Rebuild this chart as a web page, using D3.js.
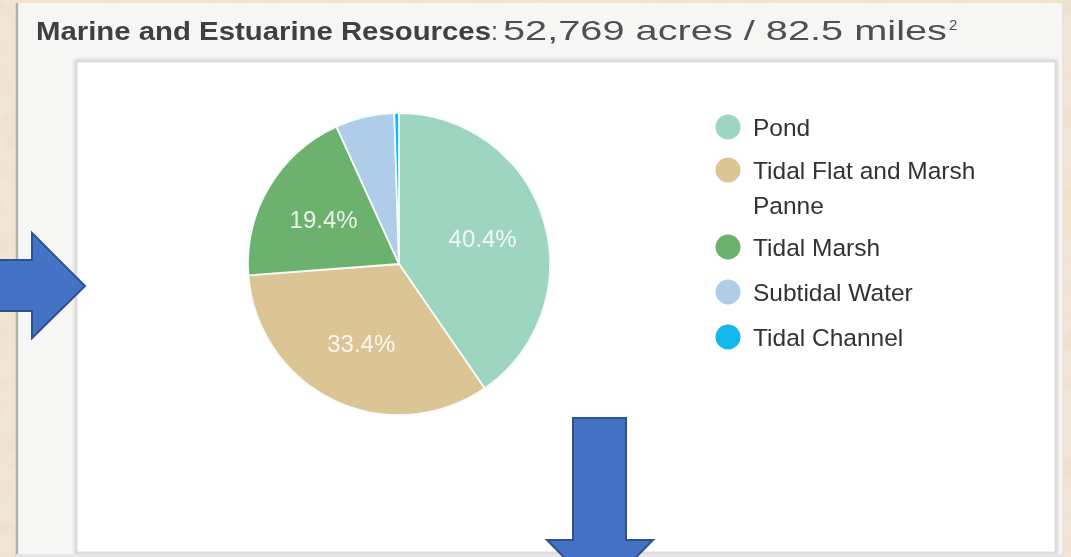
<!DOCTYPE html>
<html>
<head>
<meta charset="utf-8">
<script src="https://cdn.jsdelivr.net/npm/d3@7"></script>
<style>
  html, body { margin: 0; padding: 0; background: #efe4cf; }
  svg { display: block; }
</style>
</head>
<body>
<svg id="chart" width="1071" height="557"></svg>
<script>
// Land cover categories and their share of the area (percent)
const categories = ["Pond", "Tidal Flat and Marsh Panne", "Tidal Marsh", "Subtidal Water", "Tidal Channel"];
const shares = [40.4, 33.4, 19.4, 6.3, 0.5];
const sliceColors = ["#9ed5c0", "#dcc594", "#6cb26e", "#afcde8", "#15b8ee"];
// Legend text, wrapped onto lines
const legendLines = [["Pond"], ["Tidal Flat and Marsh", "Panne"], ["Tidal Marsh"], ["Subtidal Water"], ["Tidal Channel"]];
const titleBold = "Marine and Estuarine Resources";
const titleRest = "52,769 acres / 82.5 miles";
const titleSup = "2";
const labelMin = 10; // slices smaller than this (percent) get no label

const W = 1071, H = 557;
const svg = d3.select("#chart");
const defs = svg.append("defs");

// parchment grain
const grain = defs.append("filter").attr("id", "grain").attr("x", 0).attr("y", 0).attr("width", 1).attr("height", 1);
grain.append("feTurbulence").attr("type", "fractalNoise").attr("baseFrequency", "0.035 0.05").attr("numOctaves", 4).attr("seed", 7).attr("result", "n");
grain.append("feColorMatrix").attr("in", "n").attr("type", "matrix")
  .attr("values", "0 0 0 0 0.78  0 0 0 0 0.66  0 0 0 0 0.48  0 0 0 -1.3 0.75");

const shadow = defs.append("filter").attr("id", "soft").attr("x", -0.05).attr("y", -0.05).attr("width", 1.1).attr("height", 1.1);
shadow.append("feGaussianBlur").attr("stdDeviation", 1.5);

// slight softening for the type
const textSoft = defs.append("filter").attr("id", "tsoft");
textSoft.append("feGaussianBlur").attr("stdDeviation", 0.45);

svg.append("rect").attr("width", W).attr("height", H).attr("fill", "#f1e6d1");
svg.append("rect").attr("width", W).attr("height", H).attr("filter", "url(#grain)").attr("opacity", 0.55);

// outer panel
svg.append("rect").attr("x", 16).attr("y", 3).attr("width", 1047).attr("height", 570)
  .attr("fill", "#f6f6f5");
svg.append("line").attr("x1", 17).attr("x2", 17).attr("y1", 3).attr("y2", H)
  .attr("stroke", "#b3b2aa").attr("stroke-width", 2.5);
svg.append("line").attr("x1", 1063).attr("x2", 1063).attr("y1", 3).attr("y2", H)
  .attr("stroke", "#e4e2dc").attr("stroke-width", 1.5);

// title
const title = svg.append("g").attr("font-family", "Liberation Sans, Arial, sans-serif").attr("filter", "url(#tsoft)");
title.append("text").attr("x", 36).attr("y", 40).attr("font-size", 25).attr("font-weight", "bold")
  .attr("fill", "#404040").attr("textLength", 455).attr("lengthAdjust", "spacingAndGlyphs").text(titleBold);
title.append("text").attr("x", 491).attr("y", 40).attr("font-size", 25)
  .attr("fill", "#505050").text(":");
title.append("text").attr("x", 503).attr("y", 40).attr("font-size", 27.5)
  .attr("fill", "#505050").attr("textLength", 444).attr("lengthAdjust", "spacingAndGlyphs").text(titleRest);
title.append("text").attr("x", 949).attr("y", 30).attr("font-size", 15)
  .attr("fill", "#505050").text(titleSup);

// chart box
svg.append("rect").attr("x", 76).attr("y", 61).attr("width", 980).attr("height", 492)
  .attr("fill", "none").attr("stroke", "#cfcfcf").attr("stroke-width", 3).attr("filter", "url(#soft)");
svg.append("rect").attr("x", 77).attr("y", 62).attr("width", 978).attr("height", 490)
  .attr("fill", "#ffffff").attr("stroke", "#dedede").attr("stroke-width", 1);
svg.append("rect").attr("x", 16).attr("y", 554).attr("width", 1047).attr("height", 3).attr("fill", "#e6e6e6");

// pie
const cx = 399, cy = 264, R = 151;
const data = categories.map((c, i) => ({ name: c, value: shares[i] }));
const pie = d3.pie().value(d => d.value).sort(null);
const arc = d3.arc().innerRadius(0).outerRadius(R);
const labelArc = d3.arc().innerRadius(R * 0.58).outerRadius(R * 0.58);
const colorScale = d3.scaleOrdinal().domain(categories).range(sliceColors);

const pg = svg.append("g").attr("transform", `translate(${cx},${cy})`);
const arcs = pie(data);
pg.selectAll("path.slice").data(arcs).join("path").attr("class", "slice")
  .attr("d", arc).attr("fill", d => colorScale(d.data.name))
  .attr("stroke", "#f4fbf8").attr("stroke-width", 1.8).attr("stroke-linejoin", "round");

pg.selectAll("text.pct").data(arcs.filter(d => d.data.value >= labelMin)).join("text").attr("class", "pct")
  .attr("transform", d => `translate(${labelArc.centroid(d)})`)
  .attr("text-anchor", "middle").attr("dy", "0.36em")
  .attr("font-family", "Liberation Sans, Arial, sans-serif").attr("font-size", 24)
  .attr("fill", "#ffffff").attr("fill-opacity", 0.85).attr("filter", "url(#tsoft)")
  .text(d => d.data.value.toFixed(1) + "%");

// legend
const legendY = [127, 170, 247, 292, 337];
const lg = svg.append("g").attr("font-family", "Liberation Sans, Arial, sans-serif");
const items = lg.selectAll("g.item").data(data).join("g").attr("class", "item")
  .attr("transform", (d, i) => `translate(728,${legendY[i]})`);
items.append("circle").attr("r", 12.5).attr("fill", d => colorScale(d.name));
items.each(function (d, i) {
  const t = d3.select(this).append("text").attr("x", 25).attr("y", 0)
    .attr("font-size", 24.5).attr("fill", "#333").attr("filter", "url(#tsoft)");
  legendLines[i].forEach((ln, j) => {
    t.append("tspan").attr("x", 25).attr("dy", j === 0 ? "0.36em" : "1.45em").text(ln);
  });
});

// blue pointer arrows
const arrowFill = "#4472c4", arrowStroke = "#2f528f";
const rightArrow = [[-6, 260], [32, 260], [32, 233], [85, 286], [32, 338], [32, 311], [-6, 311]];
const downArrow = [[573, 418], [626, 418], [626, 540], [653, 540], [600, 594], [547, 540], [573, 540]];
[rightArrow, downArrow].forEach(pts => {
  svg.append("path").attr("d", d3.line()(pts) + "Z")
    .attr("fill", arrowFill).attr("stroke", arrowStroke).attr("stroke-width", 2).attr("stroke-linejoin", "miter");
});
</script>
</body>
</html>
